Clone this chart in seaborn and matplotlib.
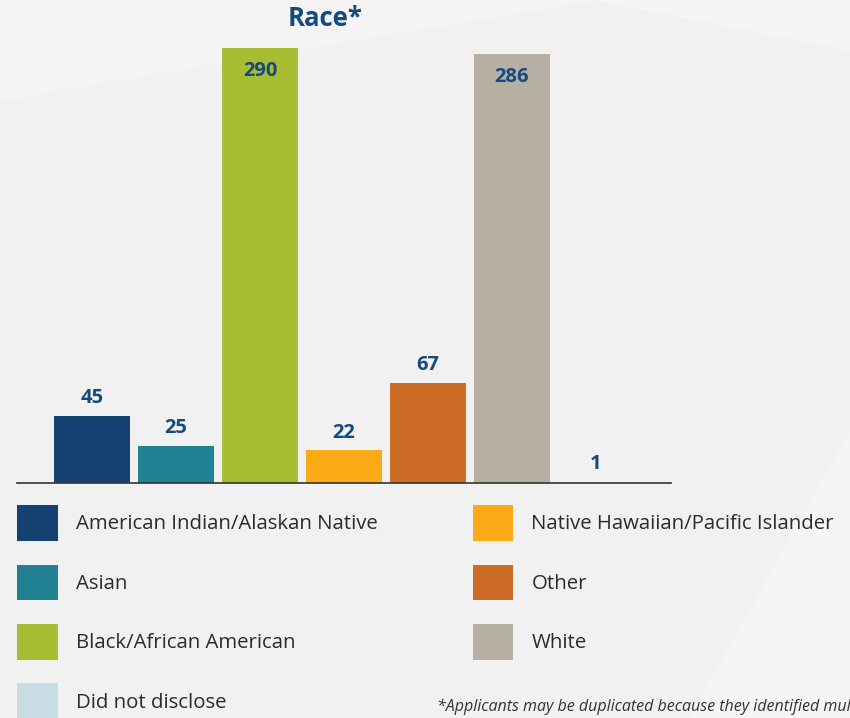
import matplotlib
matplotlib.use("Agg")
import matplotlib.pyplot as plt
from matplotlib.patches import Polygon
import seaborn as sns
import pandas as pd

# data
categories = ["American Indian/Alaskan Native", "Asian", "Black/African American",
              "Native Hawaiian/Pacific Islander", "Other", "White", "Did not disclose"]
counts = [45, 25, 290, 22, 67, 286, 1]
colors = ["#154273", "#218193", "#a8bd32", "#fdaa17", "#cc6c27", "#b6b0a4", "#c8dce4"]
legend_order = ["American Indian/Alaskan Native", "Asian", "Black/African American",
                "Did not disclose", "Native Hawaiian/Pacific Islander", "Other", "White"]

df = pd.DataFrame({"race": categories, "count": counts})
palette = dict(zip(categories, colors))

sns.set_style("white")
plt.rcParams["font.family"] = ["Open Sans", "DejaVu Sans"]

fig = plt.figure(figsize=(8.5, 7.18), dpi=100)
fig.patch.set_facecolor("#f1f1f1")
# soft lighter shapes of the slide background
fig.add_artist(Polygon([(0, 1), (1, 1), (1, 0.93), (0.7, 1)], closed=True,
                       transform=fig.transFigure, color="#f5f5f5", zorder=0))
fig.add_artist(Polygon([(0, 1), (0.7, 1), (0, 0.86)], closed=True,
                       transform=fig.transFigure, color="#f4f4f4", zorder=0))
fig.add_artist(Polygon([(1, 0.40), (1, 0), (0.81, 0)], closed=True,
                       transform=fig.transFigure, color="#f5f5f5", zorder=0))

ax = fig.add_axes([17 / 850, 235 / 718, 654 / 850, 450 / 718])
ax.set_facecolor("none")

sns.barplot(data=df, x="race", y="count", hue="race", palette=palette,
            width=0.905, dodge=False, legend=True, saturation=1,
            linewidth=0, edgecolor="none", ax=ax)

ax.set_xlim(-0.893, 6.893)
ax.set_ylim(0, 300)
ax.set_xlabel("")
ax.set_ylabel("")
ax.set_xticks([])
ax.set_yticks([])
sns.despine(ax=ax, left=True, top=True, right=True)
ax.spines["bottom"].set_color("#333333")
ax.spines["bottom"].set_linewidth(1.2)

# value labels
for i, v in enumerate(counts):
    if v > 250:
        ax.text(i, v - 15, str(v), ha="center", va="center", fontsize=14.5,
                fontweight="bold", color="#174a7c")
    else:
        ax.text(i, v + 5, str(v), ha="center", va="bottom", fontsize=14.5,
                fontweight="bold", color="#174a7c")

# legend in two columns below the bars
handles, labels = ax.get_legend_handles_labels()
lookup = dict(zip(labels, handles))
ax.get_legend().remove()
leg = fig.legend([lookup[l] for l in legend_order], legend_order,
                 ncol=2, loc="upper left", bbox_to_anchor=(9 / 850, 1 - 497 / 718),
                 frameon=False, fontsize=14.7, handlelength=2.0, handleheight=2.33,
                 handletextpad=0.88, labelspacing=1.15, columnspacing=4.65,
                 borderaxespad=0)
for t in leg.get_texts():
    t.set_color("#2b2b2b")
for h in leg.legend_handles:
    h.set_linewidth(0)

fig.text(325 / 850, 1 - 18 / 718, "Race*", ha="center", va="center",
         fontsize=18.5, fontweight="bold", color="#174a7c")
fig.text(437 / 850, 1 - 707 / 718,
         "*Applicants may be duplicated because they identified multiple races.",
         ha="left", va="center", fontsize=11.5, style="italic", color="#333333")

fig.savefig("out.png", dpi=100, facecolor=fig.get_facecolor())
